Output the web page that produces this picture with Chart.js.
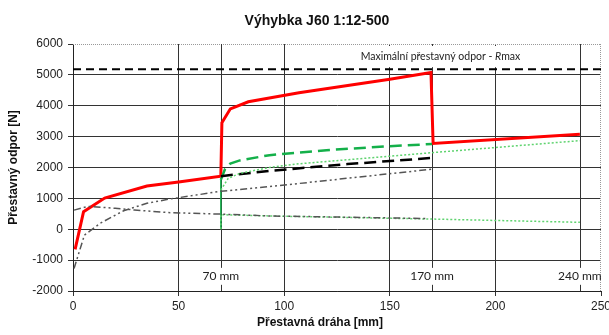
<!DOCTYPE html>
<html>
<head>
<meta charset="utf-8">
<script src="https://cdn.jsdelivr.net/npm/chart.js@4"></script>
<style>
  html, body { margin: 0; padding: 0; background: #fff; }
  #wrap { width: 609px; height: 335px; }
</style>
</head>
<body>
<div id="wrap"><canvas id="chart" width="609" height="335"></canvas></div>
<script>
// Values (x = přestavná dráha [mm], y = odpor [N])
const redX = [1, 5, 15, 35, 50, 70, 70.5, 74.5, 83, 107, 150, 169.5, 170.5, 240];
const redY = [-650, 570, 1010, 1400, 1530, 1720, 3450, 3900, 4130, 4420, 4860, 5080, 2780, 3080];

const greenDashX = [70, 70, 72, 74.5, 79, 93, 120, 150, 170];
const greenDashY = [0, 1600, 1950, 2130, 2230, 2400, 2560, 2690, 2760];

const greenDotX = [70, 73.5, 79, 93, 107, 170, 240];
const greenDotY = [1270, 1650, 1810, 2000, 2120, 2480, 2870];

const greenLowX = [70, 70, 100, 170, 240];
const greenLowY = [0, 470, 420, 330, 225];

const blackDashX = [70, 93, 130, 170];
const blackDashY = [1720, 1890, 2110, 2310];

const grayUpX = [0.5, 5.4, 13, 24, 35, 45, 70, 93, 170];
const grayUpY = [-1270, -190, 200, 600, 840, 970, 1230, 1380, 1945];

const grayLowX = [0.5, 7, 20, 29, 45, 70, 93, 130, 168];
const grayLowY = [620, 740, 680, 625, 540, 490, 430, 390, 345];

const rmaxX = [0, 250];
const rmaxY = [5180, 5180];

const markers = [70, 170, 240];
const xTicks = [0, 50, 100, 150, 200, 250];
const yTicks = [-2000, -1000, 0, 1000, 2000, 3000, 4000, 5000, 6000];

function pts(xs, ys) {
    return xs.map((x, i) => ({ x: x, y: ys[i] }));
}

// Extra drawing: title, marker lines with labels, dotted border, Rmax label
const extras = {
    id: 'extras',
    beforeDatasetsDraw(chart) {
        const ctx = chart.ctx;
        const xs = chart.scales.x, ys = chart.scales.y;
        const area = chart.chartArea;
        ctx.save();
        // dotted top and right border
        ctx.strokeStyle = '#999';
        ctx.lineWidth = 1;
        ctx.setLineDash([1, 1]);
        ctx.beginPath();
        ctx.moveTo(area.left, area.top + 0.5);
        ctx.lineTo(area.right, area.top + 0.5);
        ctx.moveTo(area.right - 0.5, area.top);
        ctx.lineTo(area.right - 0.5, area.bottom);
        ctx.stroke();
        ctx.setLineDash([]);
        // marker lines
        ctx.strokeStyle = '#333';
        markers.forEach(m => {
            const px = Math.round(xs.getPixelForValue(m)) + 0.5;
            ctx.beginPath();
            ctx.moveTo(px, area.top);
            ctx.lineTo(px, ys.getPixelForValue(-1250));
            ctx.moveTo(px, ys.getPixelForValue(-1800));
            ctx.lineTo(px, area.bottom);
            ctx.stroke();
        });
        // white box behind the Rmax label
        ctx.fillStyle = '#fff';
        const bx0 = xs.getPixelForValue(130), bx1 = xs.getPixelForValue(237);
        ctx.fillRect(bx0, area.top + 2, bx1 - bx0, ys.getPixelForValue(5250) - area.top - 2);
        ctx.restore();
    },
    afterDraw(chart) {
        const ctx = chart.ctx;
        const xs = chart.scales.x, ys = chart.scales.y;
        ctx.save();
        ctx.fillStyle = '#222';
        ctx.textAlign = 'center';
        ctx.textBaseline = 'middle';
        ctx.font = '12px Lato';
        markers.forEach(m => {
            ctx.fillText(m + ' mm', xs.getPixelForValue(m), ys.getPixelForValue(-1530));
        });
        // Rmax label
        const lx = xs.getPixelForValue(174), ly = ys.getPixelForValue(5600);
        const a = 'Maximální přestavný odpor - ', b = 'R', c = 'max';
        ctx.font = '10.5px Lato';
        const wa = ctx.measureText(a).width, wc = ctx.measureText(c).width;
        ctx.font = 'italic 10.5px Lato';
        const wb = ctx.measureText(b).width;
        let sx = lx - (wa + wb + wc) / 2;
        ctx.textAlign = 'left';
        ctx.font = '10.5px Lato';
        ctx.fillText(a, sx, ly);
        ctx.font = 'italic 10.5px Lato';
        ctx.fillText(b, sx + wa, ly);
        ctx.font = '10.5px Lato';
        ctx.fillText(c, sx + wa + wb, ly);
        // chart title and x axis title
        ctx.textAlign = 'center';
        ctx.fillStyle = '#111';
        ctx.font = 'bold 14px "Liberation Sans"';
        ctx.fillText('Výhybka J60 1:12-500', 317, 21);
        ctx.font = 'bold 12px "Liberation Sans"';
        ctx.fillText('Přestavná dráha [mm]', 320, 323);
        ctx.restore();
    }
};

function renderChart() {
    const ctx = document.getElementById('chart').getContext('2d');
    new Chart(ctx, {
        type: 'line',
        data: {
            datasets: [
                { data: pts(rmaxX, rmaxY), borderColor: '#000', borderWidth: 2, borderDash: [8, 5] },
                { data: pts(grayLowX, grayLowY), borderColor: '#555', borderWidth: 1.5, borderDash: [7, 3, 2, 3, 2, 3] },
                { data: pts(grayUpX, grayUpY), borderColor: '#555', borderWidth: 1.5, borderDash: [7, 3, 2, 3, 2, 3] },
                { data: pts(greenLowX, greenLowY), borderColor: '#5fd36f', borderWidth: 1.5, borderDash: [2, 2] },
                { data: pts(greenDotX, greenDotY), borderColor: '#5fd36f', borderWidth: 1.5, borderDash: [2, 2] },
                { data: pts(blackDashX, blackDashY), borderColor: '#000', borderWidth: 2.5, borderDash: [12, 6] },
                {
                    data: pts(greenDashX, greenDashY), borderColor: '#14b04a', borderWidth: 2.5, borderDash: [12, 6],
                    segment: { borderDash: c => c.p0DataIndex === 0 ? [] : [12, 6], borderWidth: c => c.p0DataIndex === 0 ? 1.5 : 2.5 }
                },
                { data: pts(redX, redY), borderColor: '#ff0000', borderWidth: 3 }
            ]
        },
        options: {
            responsive: false,
            animation: false,
            layout: { padding: { top: 44, right: 8, left: 0, bottom: 0 } },
            elements: { point: { radius: 0 }, line: { tension: 0, borderJoinStyle: 'miter' } },
            plugins: { legend: { display: false }, tooltip: { enabled: false } },
            scales: {
                x: {
                    type: 'linear', min: 0, max: 250,
                    afterBuildTicks: s => { s.ticks = xTicks.map(v => ({ value: v })); },
                    afterFit: s => { s.height = 44; s.paddingLeft = 0; s.paddingRight = 0; },
                    grid: { color: c => c.tick && c.tick.value === 250 ? 'rgba(0,0,0,0)' : '#333', tickColor: '#333', tickLength: 5 },
                    border: { color: '#222' },
                    ticks: { color: '#222', font: { family: 'Liberation Sans', size: 12 }, padding: 3, maxRotation: 0, callback: v => String(v) }
                },
                y: {
                    min: -2000, max: 6000,
                    afterBuildTicks: s => { s.ticks = yTicks.map(v => ({ value: v })); },
                    afterFit: s => { s.width = 73; s.paddingTop = 0; s.paddingBottom = 0; },
                    grid: { color: c => c.tick && c.tick.value === 6000 ? 'rgba(0,0,0,0)' : '#333', tickColor: '#333', tickLength: 5 },
                    border: { color: '#222' },
                    ticks: { color: '#222', font: { family: 'Liberation Sans', size: 12 }, padding: 5, callback: v => String(v) },
                    title: {
                        display: true, text: 'Přestavný odpor [N]', color: '#111',
                        font: { family: 'Liberation Sans', size: 12, weight: 'bold' }, padding: { top: 6 }
                    }
                }
            }
        },
        plugins: [extras]
    });
}

window.onload = renderChart;
</script>
</body>
</html>
